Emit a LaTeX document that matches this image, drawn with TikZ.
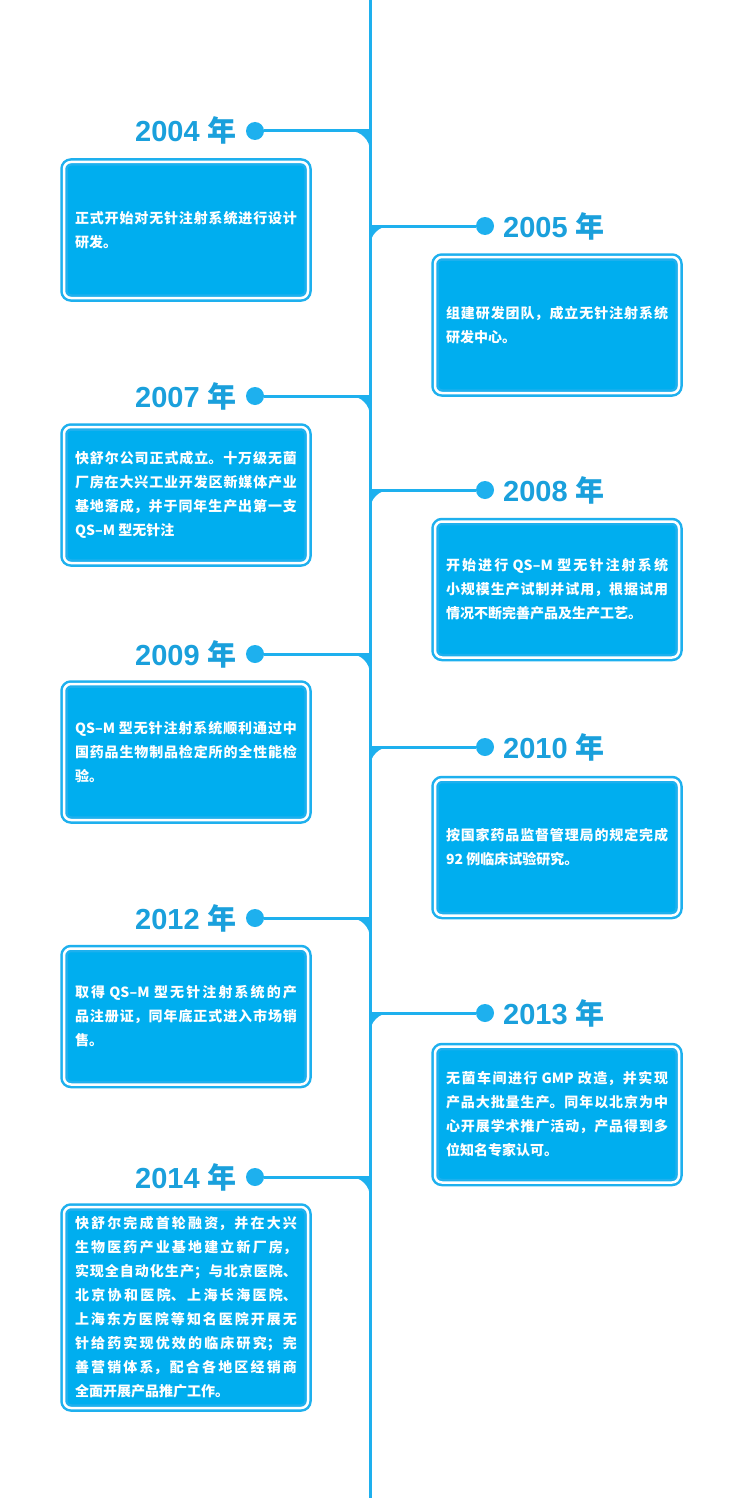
\documentclass[tikz,border=0pt]{standalone}
\usepackage{fontspec}
\newfontfamily\cjk{Noto Sans CJK SC}
\newfontfamily\yearfont{Liberation Sans}
\XeTeXlinebreaklocale "zh"
\XeTeXlinebreakskip=0pt plus 3pt
\tolerance=10000 \hbadness=10000
\definecolor{boxblue}{HTML}{00AEEF}
\definecolor{lineblue}{HTML}{1EB0EE}
\definecolor{yearblue}{HTML}{1AA0DC}
\begin{document}
\begin{tikzpicture}[x=1pt,y=-1pt,
  evbox/.style={draw=lineblue, fill=boxblue, line width=2.5pt, double=white, double distance=2.5pt,
    rounded corners=7pt, text width=222pt, inner xsep=11pt, inner ysep=0pt, minimum height=136pt,
    align=justify, text=white, font=\cjk\bfseries\fontsize{14}{24}\selectfont},
  tallbox/.style={evbox, minimum height=201pt},
  yearlbl/.style={text=yearblue, inner sep=0pt, font=\yearfont\bfseries\fontsize{29}{32}\selectfont},
  tdot/.style={circle, fill=lineblue, minimum size=18pt, inner sep=0pt},
  conn/.style={draw=lineblue, line width=3pt},
  fil/.style={fill=lineblue}]
\useasboundingbox (0,0) rectangle (740,1498);
\fill[white] (0,0) rectangle (740,1498);
% spine
\coordinate (top) at (370,0);
\coordinate (bot) at (370,1498);
\draw[conn] (top) -- (bot);
% spine junctions
\coordinate (s04) at (370,131);
\coordinate (s05) at (370,226);
\coordinate (s07) at (370,396);
\coordinate (s08) at (370,490);
\coordinate (s09) at (370,654);
\coordinate (s10) at (370,747);
\coordinate (s12) at (370,918);
\coordinate (s13) at (370,1013);
\coordinate (s14) at (370,1177);
% dots
\node[tdot] (d04) at (255,131) {};
\node[tdot] (d05) at (485,226) {};
\node[tdot] (d07) at (255,396) {};
\node[tdot] (d08) at (485,490) {};
\node[tdot] (d09) at (255,654) {};
\node[tdot] (d10) at (485,747) {};
\node[tdot] (d12) at (255,918) {};
\node[tdot] (d13) at (485,1013) {};
\node[tdot] (d14) at (255,1177) {};
% connectors
\foreach \n in {04,07,09,12,14}{
  \draw[conn] (d\n) -- (s\n);
  \fill[fil] (s\n) -- ++(-20,0) .. controls +(11,0) and +(0,-11) .. ++(20,20) -- cycle;
}
\foreach \n in {05,08,10,13}{
  \draw[conn] (s\n) -- (d\n);
  \fill[fil] (s\n) -- ++(20,0) .. controls +(-11,0) and +(0,-11) .. ++(-20,20) -- cycle;
}
% year labels
\node[yearlbl, anchor=base east] (y04) at (237,142) {2004 {\cjk 年}};
\node[yearlbl, anchor=base west] (y05) at (503,237) {2005 {\cjk 年}};
\node[yearlbl, anchor=base east] (y07) at (237,407) {2007 {\cjk 年}};
\node[yearlbl, anchor=base west] (y08) at (503,501) {2008 {\cjk 年}};
\node[yearlbl, anchor=base east] (y09) at (237,665) {2009 {\cjk 年}};
\node[yearlbl, anchor=base west] (y10) at (503,758) {2010 {\cjk 年}};
\node[yearlbl, anchor=base east] (y12) at (237,929) {2012 {\cjk 年}};
\node[yearlbl, anchor=base west] (y13) at (503,1024) {2013 {\cjk 年}};
\node[yearlbl, anchor=base east] (y14) at (237,1188) {2014 {\cjk 年}};
% boxes
\node[evbox] (b04) at (186,230) {正式开始对无针注射系统进行设计\linebreak 研发。};
\node[evbox] (b05) at (557,325) {组建研发团队，成立无针注射系统\linebreak 研发中心。};
\node[evbox] (b07) at (186,495) {快舒尔公司正式成立。十万级无菌\linebreak 厂房在大兴工业开发区新媒体产业\linebreak 基地落成，并于同年生产出第一支\linebreak QS–M 型无针注};
\node[evbox] (b08) at (557,589.5) {开始进行 QS–M 型无针注射系统\linebreak 小规模生产试制并试用，根据试用\linebreak 情况不断完善产品及生产工艺。};
\node[evbox] (b09) at (186,752) {QS–M 型无针注射系统顺利通过中\linebreak 国药品生物制品检定所的全性能检\linebreak 验。};
\node[evbox] (b10) at (557,847.5) {按国家药品监督管理局的规定完成\linebreak 92 例临床试验研究。};
\node[evbox] (b12) at (186,1016.5) {取得 QS–M 型无针注射系统的产\linebreak 品注册证，同年底正式进入市场销\linebreak 售。};
\node[evbox] (b13) at (557,1114.5) {无菌车间进行 GMP 改造，并实现\linebreak 产品大批量生产。同年以北京为中\linebreak 心开展学术推广活动，产品得到多\linebreak 位知名专家认可。};
\node[tallbox] (b14) at (186,1307.5) {快舒尔完成首轮融资，并在大兴\linebreak 生物医药产业基地建立新厂房，\linebreak 实现全自动化生产；与北京医院、\linebreak 北京协和医院、上海长海医院、\linebreak 上海东方医院等知名医院开展无\linebreak 针给药实现优效的临床研究；完\linebreak 善营销体系，配合各地区经销商\linebreak 全面开展产品推广工作。};
\end{tikzpicture}
\end{document}
